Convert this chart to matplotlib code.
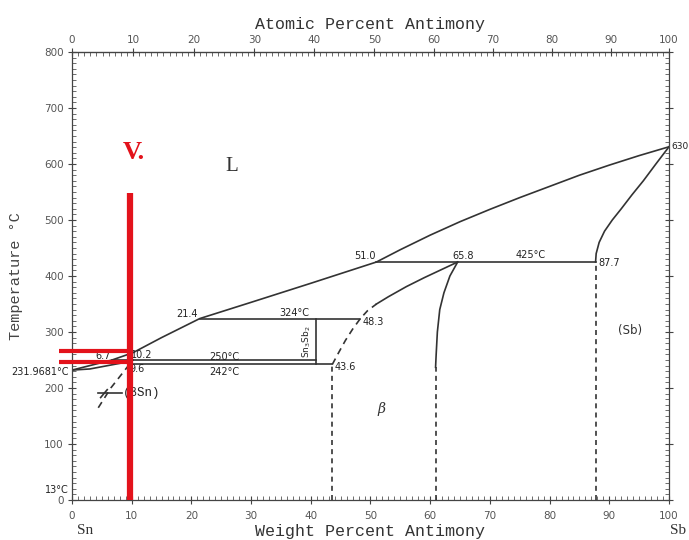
import numpy as np
import matplotlib
matplotlib.use("Agg")
import matplotlib.pyplot as plt
from matplotlib.ticker import MultipleLocator, FixedLocator

# ---------------- data (wt% Sb, temperature °C) ----------------
liq_w = [0, 6.7, 10.2, 15, 21.4, 30, 40, 51.0, 55, 60, 65, 70, 75, 80, 85, 90,
         95, 100]
liq_T = [231.9681, 250, 263, 290, 324, 353, 387, 425, 447, 473, 497, 519, 540,
         560, 580, 598, 615, 630.76]

sol_sn_w = [0, 3, 6, 8.5, 10.2]
sol_sn_T = [231.9681, 234, 240, 245, 250]

solv_sn_w = [10.2, 9.6]
solv_sn_T = [250, 242]
solv_sn_dash_w = [9.6, 6.5, 4.0]
solv_sn_dash_T = [242, 200, 158]

beta_left_dash_w = [43.6, 44.5, 45.8, 47.0, 48.3, 49.5, 51.0]
beta_left_dash_T = [242, 260, 285, 305, 324, 338, 350]
beta_left_w = [51.0, 53.0, 56.0, 59.0, 62.0, 64.6]
beta_left_T = [350, 363, 381, 397, 412, 425]

beta_right_w = [64.6, 63.3, 62.3, 61.6, 61.2, 61.0, 60.9]
beta_right_T = [425, 400, 370, 340, 300, 260, 237]

sb_solv_w = [87.7, 87.8, 88.3, 89.2, 90.5, 92.0, 93.8, 95.7, 97.8, 100]
sb_solv_T = [425, 440, 460, 480, 500, 520, 545, 570, 600, 630.76]

# invariant lines: (w_start, w_end, T)
iso_w0 = [51.0, 21.4, 6.7, 9.6]
iso_w1 = [87.7, 48.3, 40.9, 43.6]
iso_T = [425, 324, 250, 242]

# compound Sn3Sb2
cmp_w = 40.9
cmp_T = [242, 324]

# dashed vertical phase boundaries down to room temperature
vdash_w = [43.6, 60.9, 87.7]
vdash_Ttop = [242, 237, 425]

# red annotation lines
red_w = 9.7
red_Ttop = 548
red_h_T = [266, 246]

# point labels: text, w, T
pt_labels = [("6.7", 5.2, 257), ("10.2", 11.7, 259), ("9.6", 10.9, 234),
             ("250°C", 25.5, 256), ("242°C", 25.5, 228),
             ("21.4", 19.2, 333), ("324°C", 37.2, 334),
             ("48.3", 50.5, 318), ("43.6", 45.8, 238),
             ("51.0", 49.0, 436), ("65.8", 65.5, 436), ("425°C", 76.8, 437),
             ("87.7", 90.0, 424)]

# ---------------- conversion between weight and atomic percent ----------------
M_SN, M_SB = 118.71, 121.76


def w2a(w):
    w = np.asarray(w, dtype=float)
    return 100 * (w / M_SB) / (w / M_SB + (100 - w) / M_SN)


def a2w(a):
    a = np.asarray(a, dtype=float)
    return 100 * (a * M_SB) / (a * M_SB + (100 - a) * M_SN)


# ---------------- figure ----------------
fig = plt.figure(figsize=(6.89, 5.40), dpi=100)
ax = fig.add_axes([72 / 689, 40 / 540, 597 / 689, 448 / 540])
ax.set_xlim(0, 100)
ax.set_ylim(0, 800)

lc = "#333333"
lw = 1.2
ax.plot(liq_w, liq_T, color=lc, lw=lw)
ax.plot(sol_sn_w, sol_sn_T, color=lc, lw=lw)
ax.plot(solv_sn_w, solv_sn_T, color=lc, lw=lw)
ax.plot(solv_sn_dash_w, solv_sn_dash_T, color=lc, lw=lw, ls=(0, (4, 3)))
ax.plot(beta_left_dash_w, beta_left_dash_T, color=lc, lw=lw, ls=(0, (4, 3)))
ax.plot(beta_left_w, beta_left_T, color=lc, lw=lw)
ax.plot(beta_right_w, beta_right_T, color=lc, lw=lw)
ax.plot(sb_solv_w, sb_solv_T, color=lc, lw=lw)
for w0, w1, T in zip(iso_w0, iso_w1, iso_T):
    ax.plot([w0, w1], [T, T], color=lc, lw=lw)
ax.plot([cmp_w, cmp_w], cmp_T, color=lc, lw=lw)
for w, Tt in zip(vdash_w, vdash_Ttop):
    ax.plot([w, w], [0, Tt], color=lc, lw=lw, ls=(0, (3, 2.5)))

# (βSn) marker line
ax.plot([4.4, 8.4], [191, 191], color=lc, lw=lw)
ax.plot([4.8, 5.9], [183, 197], color=lc, lw=lw)

# labels
for t, w, T in pt_labels:
    ax.text(w, T, t, fontsize=7, color="#222222", ha="center", va="center")
ax.text(39.3, 283, r"Sn$_3$Sb$_2$", rotation=90, fontsize=6.5, ha="center",
        va="center", color="#222222")
ax.text(8.6, 191, "(βSn)", fontsize=9, family="Liberation Mono", ha="left",
        va="center", color="#222222")
ax.text(-0.6, 228, "231.9681°C", fontsize=7, ha="right", va="center",
        color="#222222", clip_on=False)
ax.text(-0.6, 18, "13°C", fontsize=7, ha="right", va="center",
        color="#222222", clip_on=False)
ax.text(100.4, 632, "630", fontsize=6.5, ha="left", va="center",
        color="#222222", clip_on=False)
ax.text(26.8, 595, "L", fontsize=15, family="Liberation Serif",
        ha="center", va="center", color="#333333")
ax.text(51.8, 163, "β", fontsize=10, style="italic", family="DejaVu Serif",
        ha="center", va="center", color="#333333")
ax.text(93.4, 303, "(Sb)", fontsize=8.5, ha="center", va="center",
        color="#333333")

# red annotations
red = "#e3121b"
ax.plot([red_w, red_w], [0, red_Ttop], color=red, lw=4.5, solid_capstyle="butt",
        clip_on=False, zorder=5)
for T in red_h_T:
    ax.plot([-2.1, red_w], [T, T], color=red, lw=3, solid_capstyle="butt",
            clip_on=False, zorder=5)
ax.text(10.3, 620, "V.", color=red, fontsize=19, fontweight="bold",
        family="Liberation Serif", ha="center", va="center")

# ticks
tick_col = "#555555"
ax.xaxis.set_major_locator(MultipleLocator(10))
ax.xaxis.set_minor_locator(MultipleLocator(1))
ax.yaxis.set_major_locator(MultipleLocator(100))
ax.yaxis.set_minor_locator(MultipleLocator(10))
ax.tick_params(which="major", direction="inout", length=6, width=0.8,
               labelsize=7.5, labelcolor=tick_col, color="#444444",
               left=True, right=True, bottom=True, top=False, pad=3)
ax.tick_params(which="minor", direction="in", length=3, width=0.6,
               color="#555555", left=True, right=True, bottom=True, top=False)
ax.tick_params(axis="x", pad=5)
for s in ax.spines.values():
    s.set_color("#444444")
    s.set_linewidth(0.9)

sec = ax.secondary_xaxis("top", functions=(w2a, a2w))
sec.xaxis.set_major_locator(FixedLocator(np.arange(0, 101, 10)))
sec.xaxis.set_minor_locator(FixedLocator(np.arange(0, 101, 1)))
sec.tick_params(which="major", direction="inout", length=6, width=0.8,
                labelsize=7.5, labelcolor=tick_col, color="#444444", pad=2)
sec.tick_params(which="minor", direction="in", length=3, width=0.6,
                color="#555555")
sec.set_xlabel("Atomic Percent Antimony", family="Liberation Mono",
               fontsize=12, color="#333333", labelpad=4)

ax.set_xlabel("Weight Percent Antimony", family="Liberation Mono",
              fontsize=12, color="#333333", labelpad=2)
ax.set_ylabel("Temperature °C", family="Liberation Mono", fontsize=11,
              color="#444444", labelpad=15)

fig.text(85 / 689, 1 - 530 / 540, "Sn", family="Liberation Serif", fontsize=11,
         ha="center", va="center", color="#333333")
fig.text(678 / 689, 1 - 530 / 540, "Sb", family="Liberation Serif", fontsize=11,
         ha="center", va="center", color="#333333")

fig.savefig("out.png", dpi=100)
